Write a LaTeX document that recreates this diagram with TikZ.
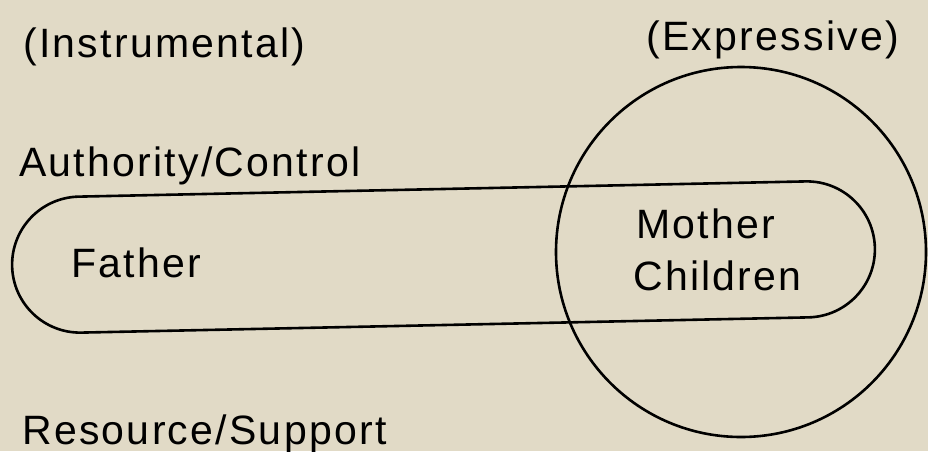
\documentclass[tikz,border=0pt]{standalone}
\usepackage{fontspec}
\setmainfont[LetterSpace=5.5]{Liberation Sans}
\usetikzlibrary{shapes.misc}
\definecolor{paper}{RGB}{225,218,198}

\begin{document}
\begin{tikzpicture}[x=0.5pt,y=-0.5pt,line width=1.3pt,
    every node/.style={font=\fontsize{20.5pt}{25pt}\selectfont, inner sep=0pt},
    tag/.style={anchor=base west}]
    \def \circleRadius {185}
    \fill[paper] (0,0) rectangle (928,451);
    \useasboundingbox (0,0) rectangle (928,451);
    % the two groups
    \node[draw, rounded rectangle, minimum width=431.5pt, minimum height=68pt, rotate=1.2] (band) at (443.5,257) {};
    \node[draw, circle, minimum size=\circleRadius pt] (ring) at (741,252) {};
    % labels
    \node[tag] (instr) at (22,57) {(Instrumental)};
    \node[tag] (expr) at (645,50) {(Expressive)};
    \node[tag] (auth) at (18,176) {Authority/Control};
    \node[tag] (father) at (70,277) {Father};
    \node[tag] (mother) at (635,238) {Mother};
    \node[tag] (children) at (632,290) {Children};
    \node[tag] (support) at (21,444) {Resource/Support};
\end{tikzpicture}
\end{document}
